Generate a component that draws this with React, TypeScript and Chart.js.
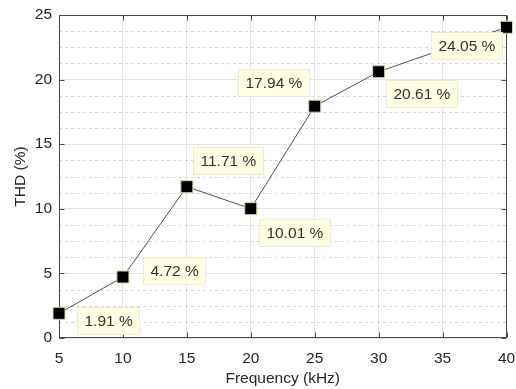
import React, { useEffect, useRef } from 'react';
import { Chart, registerables } from 'chart.js';

Chart.register(...registerables);

const frequencyKHz = [5, 10, 15, 20, 25, 30, 40];
const thdPercent = [1.91, 4.72, 11.71, 10.01, 17.94, 20.61, 24.05];
const xTickValues = [5, 10, 15, 20, 25, 30, 35, 40];
const yTickValues = [0, 5, 10, 15, 20, 25];
// data-tip box placement relative to its marker (top-left corner offset, px)
const tipOffsets: [number, number][] = [
  [18, -6],
  [20, -20],
  [6, -40],
  [8, 10],
  [-77, -37],
  [7, 8],
  [-76, 5],
];

const FONT = "'Liberation Sans', Arial, Helvetica, sans-serif";
const AXIS_COLOR = '#4a4a4a';
const TEXT_COLOR = '#262626';

const decorPlugin = {
  id: 'decor',
  beforeDatasetsDraw(chart: any) {
    const { ctx, chartArea: a, scales } = chart;
    const x = scales.x;
    const y = scales.y;
    ctx.save();
    // minor dotted grid on y
    ctx.strokeStyle = '#d4d4d4';
    ctx.lineWidth = 1;
    ctx.setLineDash([3, 3]);
    for (let i = 0; i < yTickValues.length - 1; i++) {
      for (let k = 1; k < 4; k++) {
        const v = yTickValues[i] + ((yTickValues[i + 1] - yTickValues[i]) * k) / 4;
        const py = Math.round(y.getPixelForValue(v)) + 0.5;
        ctx.beginPath();
        ctx.moveTo(a.left, py);
        ctx.lineTo(a.right, py);
        ctx.stroke();
      }
    }
    ctx.setLineDash([]);
    // box
    ctx.strokeStyle = AXIS_COLOR;
    ctx.lineWidth = 1;
    const L = Math.round(a.left) + 0.5;
    const R = Math.round(a.right) - 0.5;
    const T = Math.round(a.top) + 0.5;
    const B = Math.round(a.bottom) - 0.5;
    ctx.strokeRect(L, T, R - L, B - T);
    // inward tick marks
    const tl = 5;
    ctx.beginPath();
    for (const v of xTickValues) {
      const px = Math.round(x.getPixelForValue(v)) + 0.5;
      ctx.moveTo(px, B);
      ctx.lineTo(px, B - tl);
      ctx.moveTo(px, T);
      ctx.lineTo(px, T + tl);
    }
    for (const v of yTickValues) {
      const py = Math.round(y.getPixelForValue(v)) + 0.5;
      ctx.moveTo(L, py);
      ctx.lineTo(L + tl, py);
      ctx.moveTo(R, py);
      ctx.lineTo(R - tl, py);
    }
    ctx.stroke();
    ctx.restore();
  },
  afterDatasetsDraw(chart: any) {
    const { ctx } = chart;
    const meta = chart.getDatasetMeta(0);
    ctx.save();
    ctx.font = `15.5px ${FONT}`;
    ctx.textBaseline = 'middle';
    ctx.textAlign = 'left';
    const padX = 7;
    const h = 27;
    meta.data.forEach((pt: any, i: number) => {
      const text = `${thdPercent[i].toFixed(2)} %`;
      const w = Math.round(ctx.measureText(text).width + padX * 2);
      const [dx, dy] = tipOffsets[i];
      const bx = Math.round(pt.x + dx) + 0.5;
      const by = Math.round(pt.y + dy) + 0.5;
      ctx.fillStyle = '#ffffe3';
      ctx.fillRect(bx, by, w, h);
      ctx.strokeStyle = '#ebebcf';
      ctx.lineWidth = 1;
      ctx.strokeRect(bx, by, w, h);
      ctx.fillStyle = '#333333';
      ctx.fillText(text, bx + padX, by + h / 2 + 1);
    });
    ctx.restore();
  },
};

export default function App() {
  const canvasRef = useRef<HTMLCanvasElement | null>(null);

  useEffect(() => {
    document.body.style.margin = '0';
    const canvas = canvasRef.current;
    if (!canvas) return;
    const chart = new Chart(canvas, {
      type: 'line',
      data: {
        datasets: [
          {
            data: frequencyKHz.map((f, i) => ({ x: f, y: thdPercent[i] })),
            borderColor: '#505050',
            borderWidth: 1,
            backgroundColor: '#000000',
            pointStyle: 'rect',
            pointRadius: 8.5,
            pointHoverRadius: 8.5,
            pointBorderColor: '#d9d2a4',
            pointBorderWidth: 1,
            pointBackgroundColor: '#000000',
            tension: 0,
            clip: false as any,
          },
        ],
      },
      options: {
        animation: false,
        responsive: false,
        devicePixelRatio: 1,
        layout: { padding: { top: 15, right: 9, left: 0, bottom: 0 } },
        plugins: {
          legend: { display: false },
          tooltip: { enabled: false },
        },
        events: [],
        scales: {
          x: {
            type: 'linear',
            min: 5,
            max: 40,
            afterBuildTicks: (scale: any) => {
              scale.ticks = xTickValues.map((v) => ({ value: v }));
            },
            afterFit: (scale: any) => {
              scale.height = 51;
              scale.paddingLeft = 0;
              scale.paddingRight = 0;
            },
            ticks: {
              color: TEXT_COLOR,
              font: { family: FONT, size: 15.5 },
              padding: 11,
              maxRotation: 0,
              autoSkip: false,
            },
            grid: { color: '#e4e4e4', drawTicks: false, lineWidth: 1 },
            border: { display: false },
            title: {
              display: true,
              text: 'Frequency (kHz)',
              color: TEXT_COLOR,
              font: { family: FONT, size: 15.5 },
              padding: { top: 0, bottom: 1 },
            },
          },
          y: {
            type: 'linear',
            min: 0,
            max: 25,
            afterBuildTicks: (scale: any) => {
              scale.ticks = yTickValues.map((v) => ({ value: v }));
            },
            afterFit: (scale: any) => {
              scale.width = 59;
              scale.paddingTop = 0;
              scale.paddingBottom = 0;
            },
            ticks: {
              color: TEXT_COLOR,
              font: { family: FONT, size: 15.5 },
              padding: 7,
            },
            grid: { color: '#e4e4e4', drawTicks: false, lineWidth: 1 },
            border: { display: false },
            title: {
              display: true,
              text: 'THD (%)',
              color: TEXT_COLOR,
              font: { family: FONT, size: 15.5 },
              padding: { top: 11, bottom: 0 },
            },
          },
        },
      },
      plugins: [decorPlugin],
    });
    return () => chart.destroy();
  }, []);

  return (
    <div style={{ position: 'fixed', left: 0, top: 0, width: 516, height: 389, background: '#ffffff' }}>
      <canvas ref={canvasRef} width={516} height={389} style={{ display: 'block', width: 516, height: 389 }} />
    </div>
  );
}
